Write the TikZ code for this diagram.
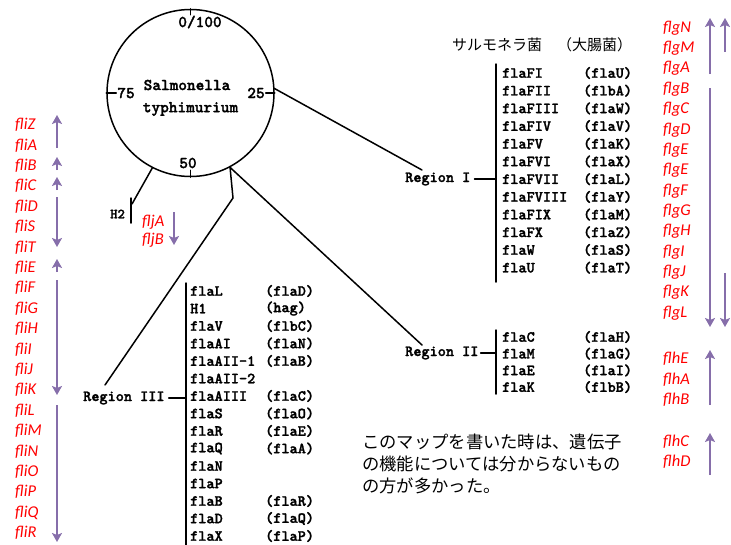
\documentclass[tikz,border=0pt]{standalone}
\usepackage{fontspec}
\newfontfamily\redf{Carlito}
\newfontfamily\jpf{Noto Sans CJK JP}
\newfontfamily\twf{lmmonolt10-bold.otf}[FakeBold=1.6]
\usetikzlibrary{arrows.meta}
\definecolor{arr}{RGB}{134,110,170}
\definecolor{lab}{RGB}{255,0,0}
\begin{document}
\begin{tikzpicture}[x=1pt,y=-1pt,
  tw/.style={font=\twf\fontsize{15.5}{15.5}\selectfont, inner sep=0pt, anchor=west},
  cw/.style={font=\twf\fontsize{16.5}{16.5}\selectfont, inner sep=0pt},
  redlab/.style={font=\redf\itshape\fontsize{16.5}{16.5}\selectfont, text=lab, inner sep=0pt, anchor=west},
  jp/.style={font=\jpf\fontsize{17.3}{17.3}\selectfont, inner sep=0pt, anchor=west},
  parr/.style={draw=arr, line width=2.6pt, -{Stealth[length=9pt,width=10pt,inset=2pt]}},
  ln/.style={line width=1.5pt, line cap=round}]
\useasboundingbox (0,0) rectangle (731,544);

% chromosome circle
\node[draw, circle, minimum size=167pt, inner sep=0pt, line width=1.5pt] (c) at (190.5,93) {};
\draw[ln] (c.north) -- ++(0,6);
\draw[ln] (c.west) -- ++(10,0);
\draw[ln] (c.east) -- ++(-9,0);
\draw[ln] (c.south) -- ++(0,-7);
\node[cw] (t0) at (200,22) {0/100};
\node[cw] (t75) at (126,93) {75};
\node[cw] (t25) at (256,93) {25};
\node[cw] (t50) at (188,163) {50};
\node[cw] (sal) at (187,85) {Salmonella};
\node[cw] (typ) at (190.5,109) {typhimurium};

% junction coordinates
\coordinate (jA) at (c.3);
\coordinate (jB) at (c.-62);
\coordinate (jC) at (c.-117);
\coordinate (e1) at (422,170);
\coordinate (e2) at (422,345);
\coordinate (k3) at (233,198);
\coordinate (e3) at (105,385);
\coordinate (eh) at (132,204);
\draw[ln] (jA) -- (e1);
\draw[ln] (jB) -- (e2);
\draw[ln] (jB) -- (k3) -- (e3);
\draw[ln] (jC) -- (eh);

% H2
\coordinate (h2t) at (131,198);
\coordinate (h2b) at (131,223);
\draw[ln] (h2t) -- (h2b);
\node[tw, font=\twf\fontsize{14}{14}\selectfont] (h2) at (110,214) {H2};

% header
\node[jp, font=\jpf\fontsize{15}{15}\selectfont] (hdr) at (452,45) {サルモネラ菌　（大腸菌）};

% Region I
\node[tw] (r1) at (405,179) {Region I};
\coordinate (b1t) at (496,64);
\coordinate (b1b) at (496,282);
\draw[ln] (b1t) -- (b1b);
\draw[ln] ([xshift=4pt]r1.east) -- (r1.east -| b1t);
\foreach \g/\e [count=\i from 0] in {flaFI/(flaU),flaFII/(flbA),flaFIII/(flaW),flaFIV/(flaV),flaFV/(flaK),flaFVI/(flaX),flaFVII/(flaL),flaFVIII/(flaY),flaFIX/(flaM),flaFX/(flaZ),flaW/(flaS),flaU/(flaT)}{
  \node[tw] (ga\i) at (502,73+17.7*\i) {\g};
  \node[tw] (ea\i) at (583,73+17.7*\i) {\e};
}

% Region II
\node[tw] (r2) at (405,353) {Region II};
\coordinate (b2t) at (496,330);
\coordinate (b2b) at (496,394);
\draw[ln] (b2t) -- (b2b);
\draw[ln] ([xshift=2pt]r2.east) -- (r2.east -| b2t);
\foreach \g/\e [count=\i from 0] in {flaC/(flaH),flaM/(flaG),flaE/(flaI),flaK/(flbB)}{
  \node[tw] (gb\i) at (502,337+16.7*\i) {\g};
  \node[tw] (eb\i) at (583,337+16.7*\i) {\e};
}

% Region III
\node[tw] (r3) at (83,398) {Region III};
\coordinate (b3t) at (186,283);
\coordinate (b3b) at (186,548);
\draw[ln] (b3t) -- (b3b);
\draw[ln] ([xshift=4pt]r3.east) -- (r3.east -| b3t);
\foreach \g/\e [count=\i from 0] in {flaL/(flaD),H1/(hag),flaV/(flbC),flaAI/(flaN),flaAII-1/(flaB),flaAII-2/,flaAIII/(flaC),flaS/(flaO),flaR/(flaE),flaQ/(flaA),flaN/,flaP/,flaB/(flaR),flaD/(flaQ),flaX/(flaP)}{
  \node[tw] (gc\i) at (190,291+17.5*\i) {\g};
  \node[tw] (ec\i) at (265,291+17.5*\i) {\e};
}

% right red labels
\foreach \g [count=\i from 0] in {flgN,flgM,flgA,flgB,flgC,flgD,flgE,flgE,flgF,flgG,flgH,flgI,flgJ,flgK,flgL}{
  \node[redlab] (rg\i) at (663,28+20.36*\i) {\g};
}
\foreach \g/\y [count=\i from 0] in {flhE/359,flhA/380,flhB/400,flhC/442,flhD/462}{
  \node[redlab] (rh\i) at (663,\y) {\g};
}
% left red labels
\foreach \g [count=\i from 0] in {fliZ,fliA,fliB,fliC,fliD,fliS,fliT,fliE,fliF,fliG,fliH,fliI,fliJ,fliK,fliL,fliM,fliN,fliO,fliP,fliQ,fliR}{
  \node[redlab] (lf\i) at (15,125+20.4*\i) {\g};
}
\node[redlab] (fja) at (142,222) {fljA};
\node[redlab] (fjb) at (142,240) {fljB};

% purple arrows (right)
\coordinate (ra1s) at (710,74);  \coordinate (ra1e) at (710,18);
\coordinate (ra2s) at (725,52);  \coordinate (ra2e) at (725,18);
\coordinate (ra3s) at (710,88);  \coordinate (ra3e) at (710,327);
\coordinate (ra4s) at (725,273); \coordinate (ra4e) at (725,327);
\coordinate (ra5s) at (710,405); \coordinate (ra5e) at (710,350);
\coordinate (ra6s) at (710,475); \coordinate (ra6e) at (710,433);
\foreach \k in {1,...,6}{\draw[parr] (ra\k s) -- (ra\k e);}
% purple arrows (left)
\coordinate (la1s) at (57,148); \coordinate (la1e) at (57,115);
\coordinate (la2s) at (57,170); \coordinate (la2e) at (57,157);
\coordinate (la3s) at (57,190); \coordinate (la3e) at (57,177);
\coordinate (la4s) at (57,197); \coordinate (la4e) at (57,247);
\coordinate (la5s) at (57,272); \coordinate (la5e) at (57,259);
\coordinate (la6s) at (57,280); \coordinate (la6e) at (57,395);
\coordinate (la7s) at (57,405); \coordinate (la7e) at (57,542);
\coordinate (la8s) at (174,212); \coordinate (la8e) at (174,245);
\foreach \k in {1,...,8}{\draw[parr] (la\k s) -- (la\k e);}

% note
\node[jp] (n1) at (362,442) {このマップを書いた時は、遺伝子};
\node[jp] (n2) at (362,464) {の機能については分からないもの};
\node[jp] (n3) at (362,486) {の方が多かった。};
\end{tikzpicture}
\end{document}
